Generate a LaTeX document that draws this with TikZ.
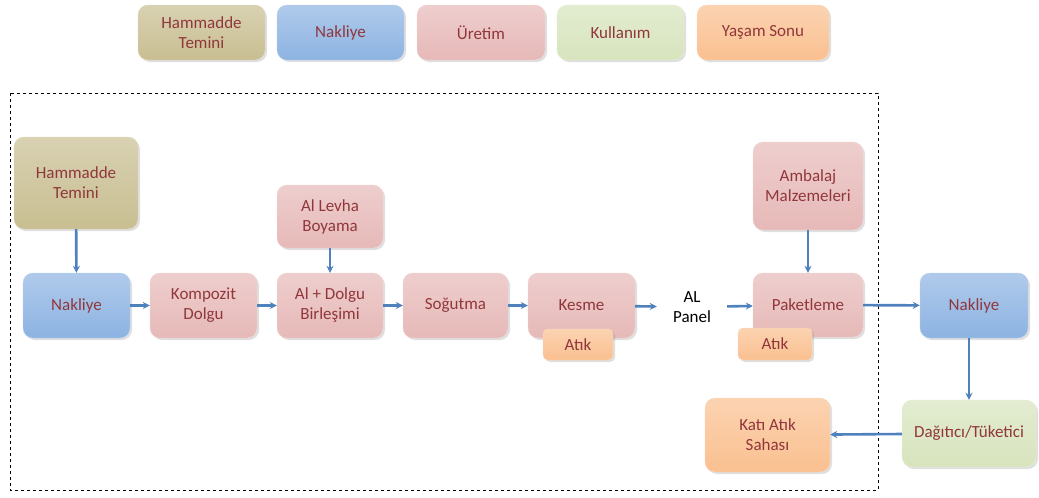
\documentclass[tikz,border=0pt]{standalone}
\usepackage{fontspec}
\setmainfont{Carlito}
\usetikzlibrary{arrows.meta,shadows}
\definecolor{tanc}{RGB}{200,190,145}
\definecolor{bluec}{RGB}{141,179,226}
\definecolor{pinkc}{RGB}{230,185,184}
\definecolor{greenc}{RGB}{215,228,189}
\definecolor{orangec}{RGB}{250,192,144}
\definecolor{txtc}{RGB}{145,55,60}
\definecolor{arrc}{RGB}{79,129,189}
\tikzset{
  box/.style={rectangle, rounded corners=10pt, align=center, text=txtc,
    font=\fontsize{17}{20}\selectfont, inner sep=2pt,
    drop shadow={opacity=0.25, shadow xshift=2pt, shadow yshift=-2pt}},
  tanbox/.style={box, top color=tanc!70!white, bottom color=tanc, draw=tanc!60!white},
  bluebox/.style={box, top color=bluec!70!white, bottom color=bluec, draw=bluec!60!white},
  pinkbox/.style={box, top color=pinkc!70!white, bottom color=pinkc, draw=pinkc!60!white},
  greenbox/.style={box, top color=greenc!70!white, bottom color=greenc, draw=greenc!60!white},
  orangebox/.style={box, top color=orangec!70!white, bottom color=orangec, draw=orangec!60!white},
  flow/.style={draw=arrc, line width=2.6pt, -{Stealth[length=7pt,width=7pt]}},
  sz/.style n args={2}{minimum width=#1pt, minimum height=#2pt},
}
\begin{document}
\begin{tikzpicture}[x=1pt,y=-1pt]
\useasboundingbox (0,0) rectangle (1039,498);
% legend
\node[tanbox, sz={127}{55}] (l1) at (201.5,32.5) {Hammadde\\Temini};
\node[bluebox, sz={127}{55}] (l2) at (340.5,32.5) {Nakliye};
\node[pinkbox, sz={128}{55}] (l3) at (481,32.5) {Üretim};
\node[greenbox, sz={127}{55}] (l4) at (620.5,32.5) {Kullanım};
\node[orangebox, sz={132}{55}] (l5) at (763,32.5) {Yaşam Sonu};
% dashed frame
\draw[black, line width=0.8pt, dash pattern=on 3pt off 3pt] (10,93) rectangle (878,490);
% main nodes
\node[tanbox, sz={124}{92}] (ham) at (76,183) {Hammadde\\Temini};
\node[bluebox, sz={107}{65}] (nak1) at (76.5,305.5) {Nakliye};
\node[pinkbox, sz={107}{65}] (komp) at (203.5,305.5) {Kompozit\\Dolgu};
\node[pinkbox, sz={106}{63}] (alb) at (330,216.5) {Al Levha\\Boyama};
\node[pinkbox, sz={106}{65}] (birl) at (330,305.5) {Al + Dolgu\\Birleşimi};
\node[pinkbox, sz={105}{65}] (sog) at (455.5,305.5) {Soğutma};
\node[pinkbox, sz={107}{65}] (kes) at (581.5,305.5) {Kesme};
\node[orangebox, sz={70}{31}, rounded corners=5pt] (atik1) at (578,344.5) {Atık};
\node[align=center, font=\fontsize{17}{20}\selectfont, text=black, minimum width=70pt, inner sep=0pt] (panel) at (692,307) {AL\\Panel};
\node[pinkbox, sz={110}{88}] (amb) at (808,186) {Ambalaj\\Malzemeleri};
\node[pinkbox, sz={110}{64}] (pak) at (808,305) {Paketleme};
\node[orangebox, sz={74}{32}, rounded corners=5pt] (atik2) at (775,344) {Atık};
\node[bluebox, sz={108}{65}] (nak2) at (974,305.5) {Nakliye};
\node[greenbox, sz={134}{67}] (dag) at (969,433.5) {Dağıtıcı/Tüketici};
\node[orangebox, sz={125}{74}] (kati) at (767.5,435) {Katı Atık\\Sahası};
% connectors
\draw[flow] (ham) -- (nak1);
\draw[flow] (nak1) -- (komp);
\draw[flow] (komp) -- (birl);
\draw[flow] (alb) -- (birl);
\draw[flow] (birl) -- (sog);
\draw[flow] (sog) -- (kes);
\draw[flow] (kes) -- (panel);
\draw[flow] (panel) -- (pak);
\draw[flow] (amb) -- (pak);
\draw[flow] (pak) -- (nak2);
\draw[flow] (nak2.south -| dag.north) -- (dag.north);
\draw[flow] (dag) -- (kati);
\end{tikzpicture}
\end{document}
